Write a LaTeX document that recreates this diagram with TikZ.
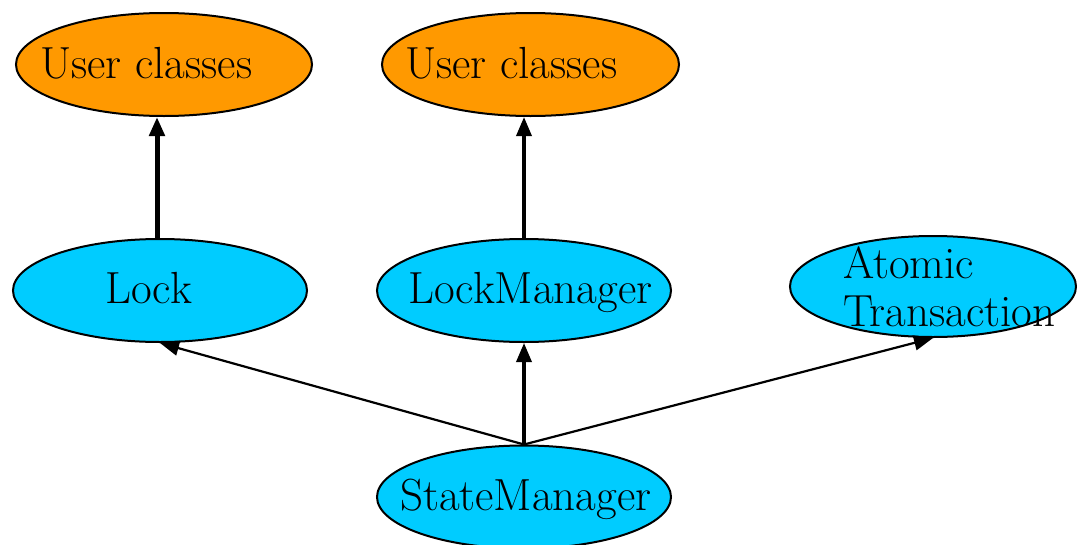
\documentclass[tikz,border=0pt]{standalone}
\usetikzlibrary{shapes.geometric,arrows.meta,calc}
\definecolor{ucorange}{HTML}{FF9900}
\definecolor{clscyan}{HTML}{00CCFF}
\begin{document}
\begin{tikzpicture}[x=1pt,y=-1pt,
  oval/.style={ellipse,draw=black,line width=2pt,inner sep=0pt},
  uc/.style={oval,fill=ucorange},
  cls/.style={oval,fill=clscyan},
  lbl/.style={anchor=base west,inner sep=0pt,font=\rmfamily\fontsize{45}{49}\selectfont},
  arr/.style={-{Triangle[length=19pt,width=15pt]}},
  thick1/.style={arr,line width=5pt},
  thick2/.style={arr,line width=3.5pt},
  thin1/.style={arr,line width=2.2pt}]
\useasboundingbox (0,0) rectangle (1077,544);
\node[uc,minimum width=296pt,minimum height=103pt] (uc1) at (164,64.5) {};
\node[uc,minimum width=297pt,minimum height=103pt] (uc2) at (530.5,64.5) {};
\node[cls,minimum width=294pt,minimum height=103pt] (lock) at (160,290.5) {};
\node[cls,minimum width=294pt,minimum height=103pt] (lm) at (524,290.5) {};
\node[cls,minimum width=286pt,minimum height=101pt] (at) at (933,286.5) {};
\node[cls,minimum width=294pt,minimum height=103pt] (sm) at (524,497) {};
\node[lbl] (t1) at (40,78) {User classes};
\node[lbl] (t2) at (405,78) {User classes};
\node[lbl] (t3) at (105,303) {Lock};
\node[lbl] (t4) at (408,303) {LockManager};
\node[lbl] (t5) at (843,278) {Atomic};
\node[lbl] (t6) at (843,326) {Transaction};
\node[lbl] (t7) at (400,510) {StateManager};
\coordinate (lk) at ($(lock.north)+(-3,0)$);
\draw[thick1] (lk) -- (lk |- uc1.south);
\draw[thick2] (lm.north) -- (lm.north |- uc2.south);
\draw[thick2] (sm.north) -- (lm.south);
\draw[thin1] (sm.north) -- (lock.south);
\draw[thin1] (sm.north) -- (at.south);
\end{tikzpicture}
\end{document}
